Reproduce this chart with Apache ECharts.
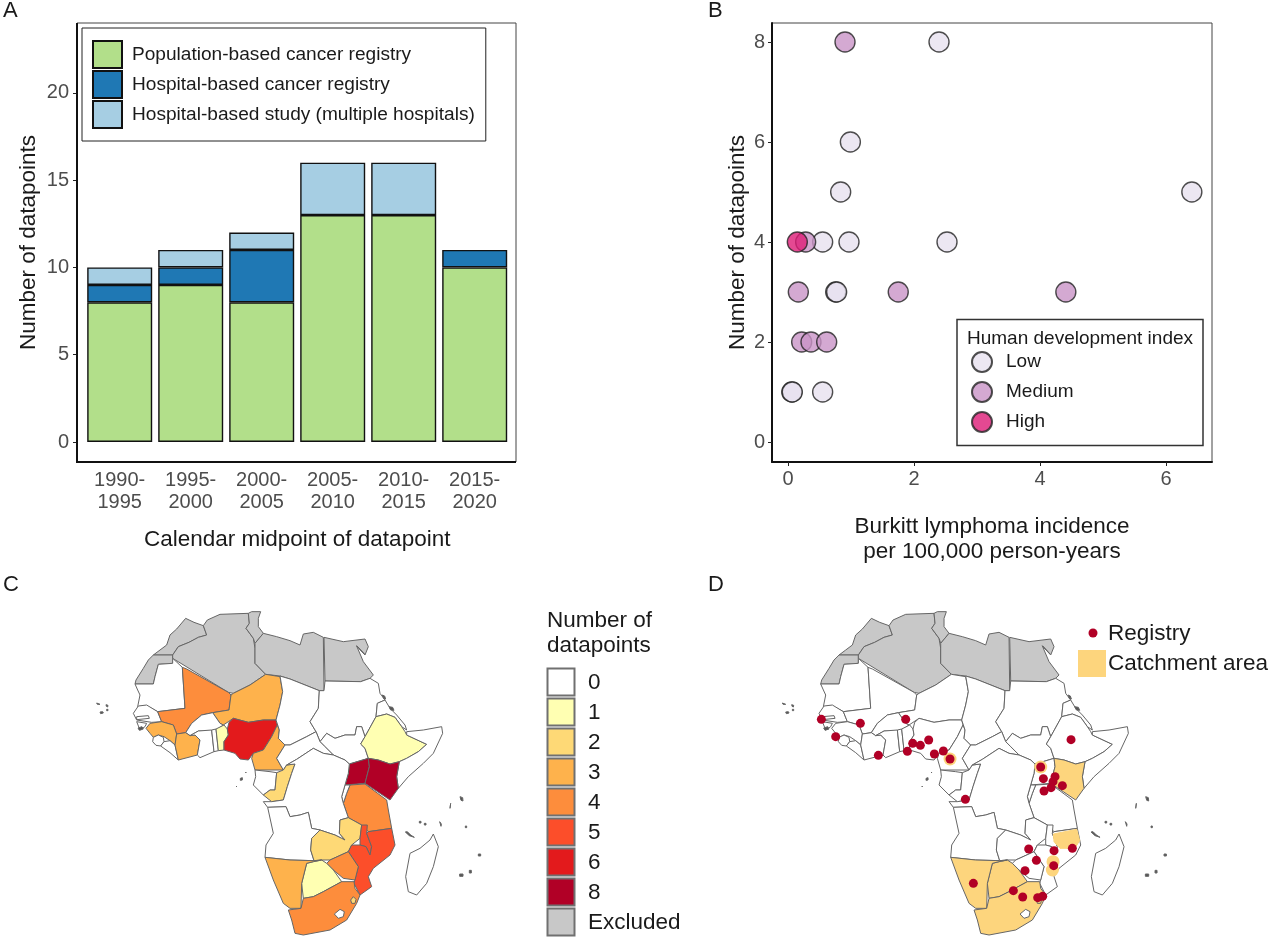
<!DOCTYPE html>
<html><head><meta charset="utf-8">
<style>html,body{margin:0;padding:0;background:#fff}#c{width:1280px;height:941px}</style>
<script src="https://cdn.jsdelivr.net/npm/echarts@6/dist/echarts.min.js"></script>
</head><body><div id="c"></div>
<script>
// ---------- Panel A data ----------
const periods = ['1990-\n1995','1995-\n2000','2000-\n2005','2005-\n2010','2010-\n2015','2015-\n2020'];
const populationRegistry = [8,9,8,13,13,10];
const hospitalRegistry   = [1,1,3,0,0,1];
const hospitalStudy      = [1,1,1,3,3,0];
// ---------- Panel B data: [incidence, datapoints] ----------
const hdiLow = [[2.397,8],[0.99,6],[0.836,5],[6.41,5],[0.55,4],[0.968,4],[2.524,4],[0.757,3],[0.772,3],[0.06,1],[0.068,1],[0.55,1]];
const hdiMedium = [[0.905,8],[0.28,4],[0.164,3],[1.75,3],[4.41,3],[0.217,2],[0.365,2],[0.614,2]];
const hdiHigh = [[0.148,4]];
// ---------- Panel C data ----------
const countLevels = ['0','1','2','3','4','5','6','8','Excluded'];
const levelColors = ['#ffffff','#ffffb2','#fed976','#feb24c','#fd8d3c','#fc4e2a','#e31a1c','#b10026','#c8c8c8'];
const excludedCountries = ['Morocco','WesternSahara','Algeria','Tunisia','Libya','Egypt'];
const countryCounts = {Mali:4,Niger:3,Guinea:3,IvoryCoast:3,Benin:1,Nigeria:6,Cameroon:3,Congo:2,Ethiopia:1,Kenya:8,Uganda:8,Tanzania:4,Zambia:2,Malawi:5,Mozambique:5,Zimbabwe:4,Botswana:1,Namibia:3,SouthAfrica:4,Eswatini:2};
// ---------- Panel D data ----------
const catchmentRegions = ['Kenya','Namibia','Botswana','SouthAfrica','Eswatini','MozambiqueNorth'];
const registrySites = [[137,358],[254,370],[180,410],[390,358],[308,466],[395,454],[411,430],[434,436],[459,420],[476,462],[503,453],[523,477],[569,598],[886,419],[795,501],[803,536],[838,530],[832,545],[826,563],[805,573],[860,557],[759,747],[835,752],[890,745],[782,781],[748,812],[834,797],[593,850],[713,872],[741,891],[786,893],[801,889]];
const catchmentSpots = [[523,477],[795,501],[832,785],[830,810]];
// ---------- Map outlines (map units; y grows southwards) ----------
const countryShapes = {
Morocco:[[287,55],[312,67],[340,77],[350,105],[325,112],[297,127],[265,140],[248,165],[190,165],[210,150],[230,135],[240,105],[260,87]],
WesternSahara:[[190,165],[248,165],[248,190],[205,193],[195,230],[190,252],[135,252],[138,240],[160,205],[175,180]],
Algeria:[[340,77],[352,60],[390,43],[475,40],[478,70],[468,85],[490,115],[495,145],[495,190],[527,223],[480,255],[430,280],[415,277],[248,175],[248,165],[265,140],[297,127],[325,112],[350,105]],
Tunisia:[[475,40],[485,35],[512,35],[505,55],[505,80],[520,100],[495,130],[490,115],[468,85],[478,70]],
Libya:[[520,100],[560,110],[600,122],[630,135],[640,102],[670,97],[700,112],[702,272],[688,272],[600,237],[570,228],[527,223],[495,190],[495,130]],
Egypt:[[702,112],[760,125],[825,117],[835,140],[825,165],[800,138],[820,185],[850,225],[840,235],[812,245],[705,243]],
Mauritania:[[135,252],[190,252],[195,230],[205,193],[248,190],[248,175],[277,202],[285,325],[203,335],[185,325],[165,318],[143,320],[150,285],[143,270]],
Senegal:[[130,340],[145,318],[170,315],[203,335],[215,365],[185,367],[140,360]],
Gambia:[[140,350],[175,347],[178,355],[140,359]],
GuineaBissau:[[140,365],[170,370],[165,380],[150,390]],
Mali:[[277,202],[290,207],[415,277],[423,285],[417,330],[368,338],[335,345],[305,370],[287,398],[260,402],[250,375],[215,365],[203,335],[285,325]],
Niger:[[527,223],[570,230],[578,275],[570,315],[558,360],[520,360],[475,367],[430,355],[415,365],[400,375],[390,370],[368,338],[417,330],[423,285],[430,280],[480,255]],
BurkinaFaso:[[368,338],[390,370],[400,375],[375,393],[325,393],[300,407],[287,398],[305,370],[335,345]],
Guinea:[[168,385],[180,370],[215,365],[250,375],[260,402],[255,435],[240,422],[222,410],[205,405],[190,412],[180,400]],
SierraLeone:[[190,412],[205,405],[220,412],[222,425],[212,438],[198,436],[188,425]],
Liberia:[[212,438],[222,425],[240,422],[255,435],[265,480],[240,458]],
IvoryCoast:[[260,402],[287,398],[300,407],[315,405],[330,420],[322,465],[265,480],[255,435]],
Ghana:[[300,407],[325,393],[365,390],[372,455],[330,473],[322,465],[330,420],[315,405]],
Togo:[[365,390],[378,387],[385,452],[372,455]],
Benin:[[378,387],[402,375],[412,387],[415,405],[402,425],[402,450],[385,452]],
Nigeria:[[412,387],[417,367],[430,355],[475,367],[520,360],[558,360],[562,375],[545,410],[520,450],[490,460],[475,480],[450,477],[435,460],[402,450],[402,425],[415,405]],
Cameroon:[[562,375],[568,390],[565,415],[585,435],[560,475],[580,510],[495,510],[485,475],[490,460],[520,450],[545,410]],
Chad:[[570,228],[600,237],[688,272],[685,325],[660,365],[678,395],[650,410],[600,435],[585,435],[565,415],[568,390],[558,360],[570,315],[578,275]],
Sudan:[[705,243],[812,245],[840,235],[865,250],[870,280],[885,300],[862,310],[858,350],[825,410],[815,380],[800,380],[795,405],[765,405],[735,415],[710,400],[690,425],[678,395],[660,365],[685,325],[688,272],[702,272]],
SouthSudan:[[690,425],[710,400],[735,415],[765,405],[795,405],[800,380],[815,380],[825,410],[812,432],[825,445],[835,475],[778,492],[765,480],[730,465],[705,440]],
CAR:[[585,435],[600,435],[650,410],[678,395],[690,425],[705,440],[730,465],[700,460],[670,445],[620,478],[590,495],[580,510],[560,475]],
Eritrea:[[885,300],[900,325],[920,345],[945,375],[950,390],[935,380],[915,352],[890,342],[858,350],[862,310]],
Ethiopia:[[858,350],[890,342],[915,352],[935,380],[945,395],[950,405],[1010,433],[985,455],[950,475],[928,485],[900,492],[865,480],[835,475],[825,445],[812,432],[825,410]],
Somalia:[[950,395],[1000,390],[1055,380],[1058,400],[1030,460],[1000,490],[955,530],[925,565],[920,530],[928,485],[950,475],[985,455],[1010,433],[950,405]],
Uganda:[[778,492],[835,475],[838,500],[825,550],[765,555],[775,520]],
Kenya:[[835,475],[865,480],[900,492],[928,485],[920,530],[925,565],[900,600],[825,550],[838,500]],
Tanzania:[[780,555],[825,552],[890,600],[895,630],[905,685],[835,695],[815,675],[775,653],[760,610],[770,580]],
Rwanda:[[765,555],[780,555],[770,580],[760,610],[755,590]],
Gabon:[[495,510],[540,515],[560,518],[555,570],[540,570],[520,585],[490,555],[497,530]],
Congo:[[580,510],[590,495],[615,492],[605,520],[592,560],[580,600],[545,605],[520,585],[540,570],[555,570],[560,518]],
DRC:[[590,495],[620,478],[670,445],[700,460],[730,465],[765,480],[778,492],[775,520],[765,555],[755,590],[760,610],[775,653],[750,660],[748,700],[765,720],[755,715],[735,705],[690,690],[665,685],[655,637],[630,645],[600,650],[588,620],[533,622],[520,605],[545,605],[580,600],[592,560],[605,520],[615,492]],
Angola:[[533,622],[588,620],[600,650],[630,645],[655,637],[665,685],[690,690],[665,715],[662,750],[672,782],[600,780],[525,772],[528,735],[550,700]],
Zambia:[[690,690],[735,705],[755,715],[765,720],[748,700],[750,660],[775,653],[815,675],[810,715],[785,735],[775,755],[720,780],[695,780],[672,782],[662,750],[665,715]],
Malawi:[[815,675],[832,675],[830,700],[845,740],[840,765],[828,740],[810,735],[810,715]],
Mozambique:[[835,695],[905,685],[915,735],[900,765],[850,805],[835,830],[845,860],[810,885],[792,850],[805,800],[775,755],[785,735],[810,735],[828,740],[840,765],[845,740],[830,700]],
Zimbabwe:[[710,790],[720,780],[775,755],[805,800],[795,840],[760,835],[730,810]],
Botswana:[[650,790],[670,785],[695,780],[710,790],[730,810],[755,845],[700,875],[670,890],[640,895],[635,850]],
Namibia:[[525,772],[600,780],[672,782],[695,780],[670,785],[650,790],[635,850],[633,925],[600,925],[580,910],[550,840]],
SouthAfrica:[[595,930],[633,925],[640,895],[670,890],[700,875],[755,845],[792,845],[795,865],[810,885],[800,910],[770,960],[720,990],[640,1005],[615,1000],[605,960]],
Lesotho:[[733,942],[750,928],[763,935],[760,950],[745,955]],
Eswatini:[[782,900],[790,890],[798,898],[795,910],[785,910]],
Madagascar:[[1030,702],[1045,740],[1030,800],[1010,850],[980,885],[955,875],[947,830],[960,760],[990,745],[1020,720]]
};
const islandShapes = [
[[20,309],[30,313],[28,316],[22,313]],[[48,314],[54,316],[53,321],[49,319]],[[30,336],[38,335],[40,339],[32,341]],[[50,328],[54,328],[54,332],[50,332]],
[[1110,590],[1118,593],[1119,603],[1113,601]],[[1082,610],[1084,612],[1080,625],[1078,622]],[[988,664],[993,664],[993,669],[988,669]],[[1003,670],[1008,670],[1008,675],[1003,675]],
[[1049,665],[1054,672],[1053,679],[1050,677]],[[1126,678],[1130,678],[1130,683],[1126,683]],[[946,696],[952,695],[962,705],[973,712],[971,715],[958,707]],
[[1165,762],[1172,762],[1172,768],[1165,768]],[[1109,822],[1119,822],[1119,829],[1109,829]],[[1138,811],[1144,811],[1144,819],[1138,819]],
[[451,535],[457,533],[457,540],[451,541]],[[438,558],[441,558],[441,561],[438,561]],[[466,516],[469,516],[469,519],[466,519]],
[[800,137],[803,137],[823,162],[820,164]],[[877,285],[884,288],[887,297],[881,296]],[[897,320],[908,322],[912,331],[902,330]],[[144,384],[156,380],[160,387],[148,391]]
];
function feature(name, rings){return {type:'Feature',properties:{name},geometry:{type:'MultiPolygon',coordinates:rings.map(r=>[r.concat([r[0]]).map(p=>[p[0],-p[1]])])}};}
const baseFeatures = Object.keys(countryShapes).map(n=>feature(n,[countryShapes[n]])).concat([feature('Islands',islandShapes)]);
const northMozambiqueCatchment = [[833,702],[903,688],[912,722],[897,745],[853,745],[835,725]];
echarts.registerMap('africaC',{type:'FeatureCollection',features:baseFeatures});
echarts.registerMap('africaD',{type:'FeatureCollection',features:baseFeatures.concat([feature('MozambiqueNorth',[northMozambiqueCatchment])])});

const FONT='"Liberation Sans",Arial,sans-serif', TICK='#4d4d4d', INK='#1a1a1a', EDGE='#666666';
const mapBox=[[0,0],[1200,-1020]];
const colorOf=n=>{ if(excludedCountries.includes(n)) return levelColors[8]; if(n==='Islands') return '#555555'; const c=countryCounts[n]; return c?levelColors[countLevels.indexOf(String(c))]:'#ffffff';};

const panelLetters=[['A',3,11],['B',708,11],['C',3,585],['D',708,585]];
const frame=(x,y,w,h)=>[
 {type:'rect',shape:{x,y,width:w,height:h},style:{fill:'none',stroke:'#444',lineWidth:1},z:5,silent:true},
 {type:'line',shape:{x1:x,y1:y,x2:x,y2:y+h},style:{stroke:'#111',lineWidth:2},z:6,silent:true},
 {type:'line',shape:{x1:x-1,y1:y+h,x2:x+w,y2:y+h},style:{stroke:'#111',lineWidth:2},z:6,silent:true}];
const txt=(t,x,y,size,extra)=>({type:'text',x,y,silent:true,z:10,style:Object.assign({text:t,font:size+'px '+FONT,fill:INK,textVerticalAlign:'middle'},extra||{})});

const graphics=[].concat(
 panelLetters.map(p=>txt(p[0],p[1],p[2],22)),
 frame(77,23,439,439),
 [{type:'rect',shape:{x:957,y:319.5,width:246,height:126},style:{fill:'#fff',stroke:'#333',lineWidth:1.5},z:3,silent:true},
  txt('Human development index',967,339,19)],
 [txt('Number of',547,621,22.5),txt('datapoints',547,646,22.5)],
 countLevels.flatMap((lab,i)=>[
  {type:'rect',shape:{x:547.5,y:668.5+30*i,width:27,height:27},style:{fill:levelColors[i],stroke:'#707070',lineWidth:2},silent:true,z:8},
  txt(lab,588,683+30*i,22.5)]),
 [{type:'circle',shape:{cx:1093,cy:633,r:4.5},style:{fill:'#b10026'},silent:true,z:8},
  {type:'rect',shape:{x:1078,y:650,width:28,height:27},style:{fill:'#fdd57d'},silent:true,z:8},
  txt('Registry',1108,634,22.5),txt('Catchment area',1108,664,22.5)]
);
const valueAxisBase={axisTick:{length:4,lineStyle:{color:'#222',width:1}},splitLine:{show:false},nameTextStyle:{color:INK,fontSize:22.5,fontFamily:FONT}};
const barStyle=c=>({color:c,borderColor:'#111',borderWidth:1.4});

const option={
 animation:false,backgroundColor:'#fff',textStyle:{fontFamily:FONT},
 graphic:graphics,
 grid:[{left:84.2,width:426,top:23,height:439},{left:772,width:440,top:23,height:439,show:true,borderColor:'#444',borderWidth:1,z:0}],
 xAxis:[
  {gridIndex:0,type:'category',data:periods,axisLine:{onZero:false,lineStyle:{color:'#111',width:2}},axisTick:{alignWithLabel:true,length:4,lineStyle:{color:'#222'}},
   axisLabel:{color:TICK,fontSize:20,lineHeight:22,margin:7,fontFamily:FONT,interval:0},name:'Calendar midpoint of datapoint',nameLocation:'middle',nameGap:66,nameTextStyle:{color:INK,fontSize:22.5,fontFamily:FONT}},
  Object.assign({gridIndex:1,type:'value',min:-0.254,max:6.73,axisLine:{onZero:false,lineStyle:{color:'#111',width:2}},
   axisLabel:{color:TICK,fontSize:20,margin:7,fontFamily:FONT,customValues:[0,2,4,6]},name:'Burkitt lymphoma incidence\nper 100,000 person-years',nameLocation:'middle',nameGap:52},valueAxisBase,{axisTick:{length:4,customValues:[0,2,4,6],lineStyle:{color:'#222'}},nameTextStyle:{color:INK,fontSize:22.5,lineHeight:25,fontFamily:FONT}})
 ],
 yAxis:[
  Object.assign({gridIndex:0,type:'value',min:-1.145,max:24,offset:7.2,axisLine:{show:false,onZero:false},
   axisLabel:{color:TICK,fontSize:20,margin:8,fontFamily:FONT,customValues:[0,5,10,15,20]},name:'Number of datapoints',nameLocation:'middle',nameGap:37},valueAxisBase,{axisTick:{show:true,length:4,customValues:[0,5,10,15,20],lineStyle:{color:'#222'}}}),
  Object.assign({gridIndex:1,type:'value',min:-0.4,max:8.38,axisLine:{onZero:false,lineStyle:{color:'#111',width:2}},
   axisLabel:{color:TICK,fontSize:20,margin:7,fontFamily:FONT,customValues:[0,2,4,6,8]},name:'Number of datapoints',nameLocation:'middle',nameGap:23},valueAxisBase,{axisTick:{show:true,length:4,customValues:[0,2,4,6,8],lineStyle:{color:'#222'}}})
 ],
 legend:[
  {left:82,top:28,orient:'vertical',padding:[12,11,12,10],itemWidth:29,itemHeight:27,itemGap:1,icon:'rect',borderColor:'#222',borderWidth:1,backgroundColor:'#fff',selectedMode:false,
   data:['Population-based cancer registry','Hospital-based cancer registry','Hospital-based study (multiple hospitals)'],textStyle:{fontSize:19.1,lineHeight:22,color:INK,fontFamily:FONT,padding:[0,0,0,5]},z:6},
  {left:971,top:351,orient:'vertical',padding:0,itemWidth:20,itemHeight:20,itemGap:8,selectedMode:false,icon:'circle',
   data:['Low','Medium','High'],textStyle:{fontSize:19,lineHeight:20,color:INK,fontFamily:FONT,padding:[0,0,0,9]},z:6}
 ],
 geo:{map:'africaD',roam:false,silent:true,aspectScale:1,left:775.7,top:600,width:400,height:340,boundingCoords:mapBox,
  itemStyle:{areaColor:'#fff',borderColor:EDGE,borderWidth:1},
  regions:baseFeatures.map(f=>f.properties.name).concat(['MozambiqueNorth']).map(n=>({name:n,itemStyle:{areaColor:excludedCountries.includes(n)?levelColors[8]:(n==='Islands'?'#555555':(catchmentRegions.includes(n)?'#fdd57d':'#fff')),borderColor:n==='MozambiqueNorth'?'#fdd57d':EDGE}}))},
 series:[
  {name:'Population-based cancer registry',type:'bar',stack:'a',xAxisIndex:0,yAxisIndex:0,barWidth:65,data:populationRegistry,itemStyle:barStyle('#b2df8a')},
  {name:'Hospital-based cancer registry',type:'bar',stack:'a',xAxisIndex:0,yAxisIndex:0,barWidth:65,data:hospitalRegistry.map(v=>v||null),itemStyle:barStyle('#1f78b4')},
  {name:'Hospital-based study (multiple hospitals)',type:'bar',stack:'a',xAxisIndex:0,yAxisIndex:0,barWidth:65,data:hospitalStudy.map(v=>v||null),itemStyle:barStyle('#a6cee3')},
  ...[['Low',hdiLow,'#e7e1ef'],['Medium',hdiMedium,'#c994c7'],['High',hdiHigh,'#dd1c77']].map(s=>({name:s[0],type:'scatter',xAxisIndex:1,yAxisIndex:1,symbolSize:20,data:s[1],itemStyle:{color:s[2],borderColor:'#222',borderWidth:1.4,opacity:0.8}})),
  {type:'map',map:'africaC',silent:true,roam:false,aspectScale:1,left:90,top:600,width:400,height:340,boundingCoords:mapBox,
   itemStyle:{areaColor:'#fff',borderColor:EDGE,borderWidth:1},label:{show:false},
   data:baseFeatures.map(f=>({name:f.properties.name,itemStyle:{areaColor:colorOf(f.properties.name)}}))},
  {type:'scatter',coordinateSystem:'geo',silent:true,symbolSize:13,data:catchmentSpots.map(p=>[p[0],-p[1]]),itemStyle:{color:'#fdd57d',opacity:1},z:3},
  {type:'scatter',coordinateSystem:'geo',silent:true,symbolSize:9,data:registrySites.map(p=>[p[0],-p[1]]),itemStyle:{color:'#b10026',opacity:1},z:4}
 ]
};
const chart=echarts.init(document.getElementById('c'),null,{renderer:'canvas'});
chart.setOption(option);
</script></body></html>
